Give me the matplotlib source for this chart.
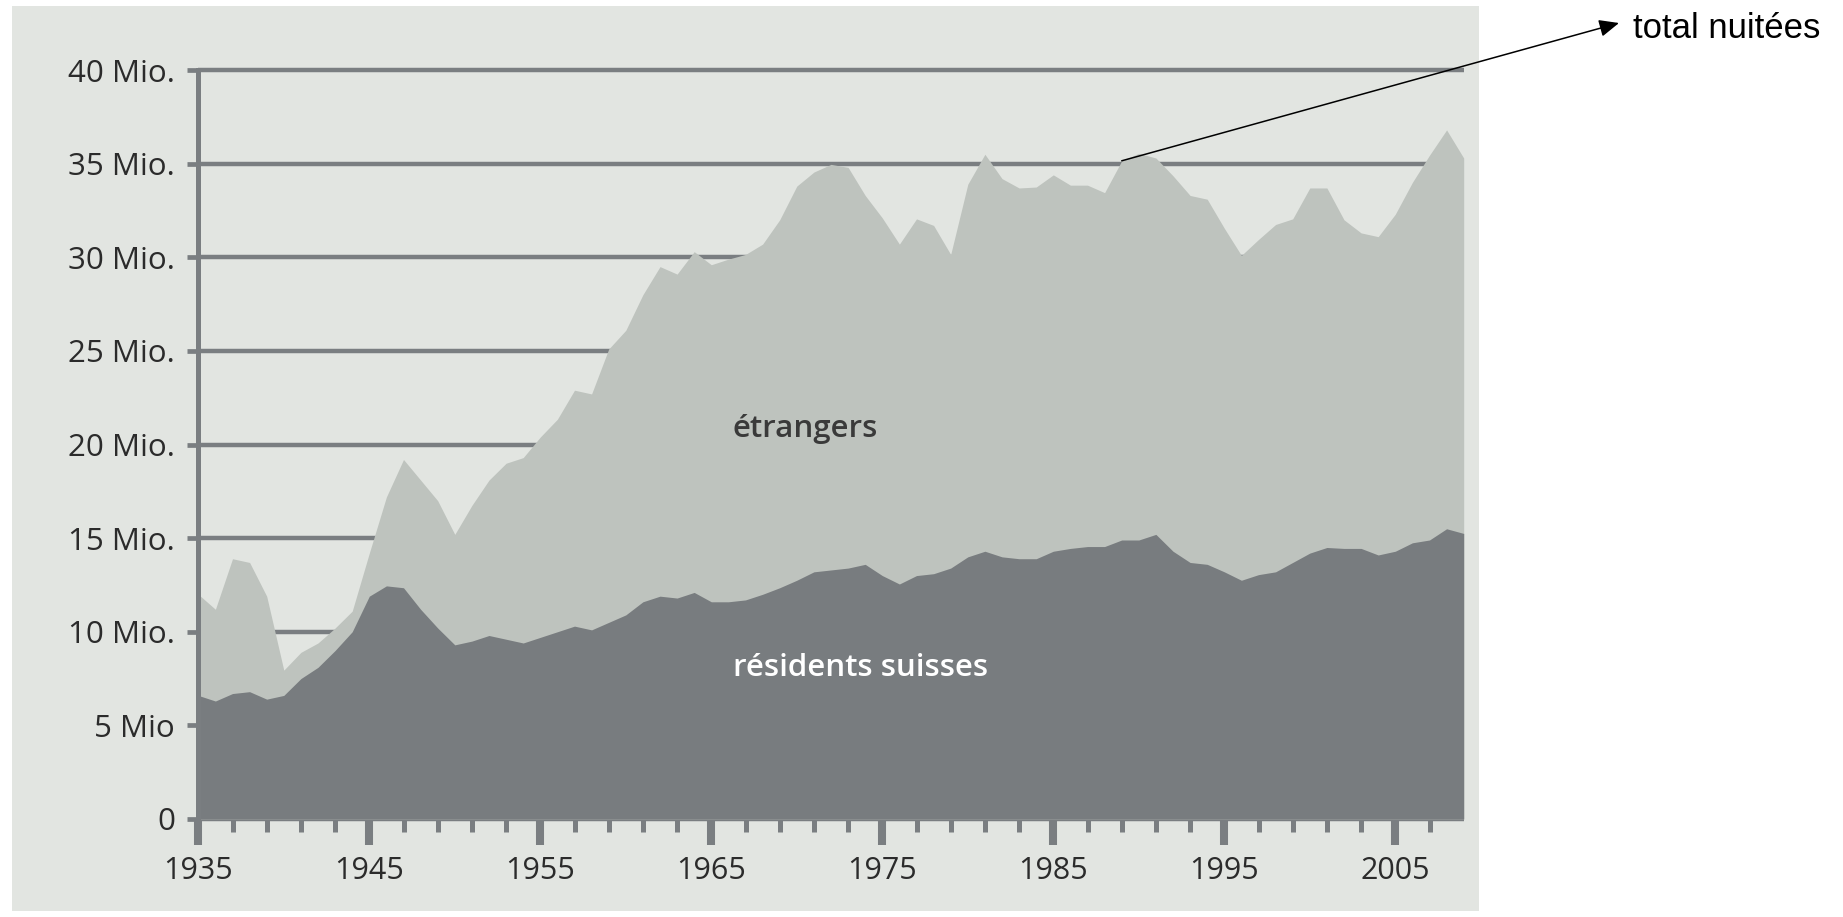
import numpy as np
import matplotlib.pyplot as plt
from matplotlib.patches import Rectangle

plt.rcParams['font.family'] = ['Open Sans', 'DejaVu Sans']

# nuitées hôtelières en Suisse, en millions
years = np.arange(1935, 2010)
total = [12.0, 11.2, 13.9, 13.7, 11.9, 7.95, 8.9, 9.4, 10.2, 11.1,
         14.2, 17.2, 19.2, 18.1, 17.0, 15.2, 16.75, 18.1, 19.0, 19.3,
         20.4, 21.35, 22.9, 22.7, 25.1, 26.1, 28.0, 29.5, 29.1, 30.3,
         29.6, 29.9, 30.15, 30.7, 32.0, 33.8, 34.55, 34.96, 34.8, 33.3,
         32.1, 30.7, 32.05, 31.7, 30.15, 33.9, 35.5, 34.2, 33.7, 33.75,
         34.4, 33.85, 33.85, 33.45, 35.15, 35.55, 35.3, 34.35, 33.3, 33.1,
         31.55, 30.1, 30.95, 31.75, 32.05, 33.7, 33.7, 32.0, 31.3, 31.1,
         32.3, 34.0, 35.45, 36.8, 35.3]
residents = [6.6, 6.3, 6.7, 6.8, 6.4, 6.6, 7.5, 8.1, 9.0, 10.0,
             11.9, 12.45, 12.35, 11.2, 10.2, 9.3, 9.5, 9.8, 9.6, 9.4,
             9.7, 10.0, 10.3, 10.1, 10.5, 10.9, 11.6, 11.9, 11.8, 12.1,
             11.6, 11.6, 11.7, 12.0, 12.35, 12.75, 13.2, 13.3, 13.4, 13.6,
             13.0, 12.55, 13.0, 13.1, 13.4, 14.0, 14.3, 14.0, 13.9, 13.9,
             14.3, 14.45, 14.55, 14.55, 14.9, 14.9, 15.2, 14.3, 13.7, 13.6,
             13.2, 12.75, 13.05, 13.2, 13.7, 14.2, 14.5, 14.45, 14.45, 14.1,
             14.3, 14.75, 14.9, 15.5, 15.25]

ytick_vals = [0, 5, 10, 15, 20, 25, 30, 35, 40]
ytick_labels = ['0', '5 Mio', '10 Mio.', '15 Mio.', '20 Mio.', '25 Mio.',
                '30 Mio.', '35 Mio.', '40 Mio.']
xtick_major = list(range(1935, 2006, 10))
xtick_minor = [y for y in range(1937, 2009, 2) if y not in xtick_major]

panel_c = '#e2e5e1'
light_c = '#bec3be'
dark_c = '#787c7f'
grid_c = '#7a7e81'
text_c = '#2b2b2b'

W, H = 1843, 917
fig = plt.figure(figsize=(W / 100, H / 100), dpi=100)
panel = Rectangle((12 / W, 1 - 911 / H), (1479 - 12) / W, 905 / H,
                  transform=fig.transFigure, facecolor=panel_c,
                  edgecolor='none', zorder=-10)
fig.add_artist(panel)

ax = fig.add_axes([198.3 / W, 98 / H, (1463.7 - 198.3) / W, 749 / H])
ax.set_facecolor('none')

ax.hlines(ytick_vals, 1935, 2009, colors=grid_c, linewidth=3.2, zorder=1, clip_on=False)
ax.fill_between(years, 0, total, color=light_c, lw=0, zorder=2)
ax.fill_between(years, 0, residents, color=dark_c, lw=0, zorder=3)

ax.set_xlim(1935, 2009)
ax.set_ylim(0, 40)
for s in ['top', 'right', 'bottom']:
    ax.spines[s].set_visible(False)
ax.spines['left'].set_color(grid_c)
ax.spines['left'].set_linewidth(3.6)
ax.spines['left'].set_zorder(4)

ax.set_yticks(ytick_vals, ytick_labels)
ax.tick_params(axis='y', length=8, width=3.4, color=grid_c, pad=8.6,
               labelsize=22.5, labelcolor=text_c)
ax.set_xticks(xtick_major)
ax.set_xticks(xtick_minor, minor=True)
ax.tick_params(axis='x', which='major', length=18.7, width=5.8, color=grid_c,
               pad=8, labelsize=22, labelcolor=text_c)
ax.tick_params(axis='x', which='minor', length=9.4, width=3.6, color=grid_c)

ax.text(1970.5, 20.85, 'étrangers', ha='center', va='center', fontsize=22.5,
        fontweight='semibold', color='#3a3a3a', zorder=5)
ax.text(1973.7, 8.05, 'résidents suisses', ha='center', va='center', fontsize=22.5,
        fontweight='semibold', color='white', zorder=5)

# flèche vers l'étiquette "total nuitées"
i89 = list(years).index(1989)
ax.annotate('', xy=(1619 / W, 1 - 23 / H), xycoords='figure fraction',
            xytext=(1989, total[i89]), textcoords='data',
            arrowprops=dict(arrowstyle='-|>,head_length=0.8,head_width=0.35',
                            mutation_scale=15, color='black', lw=1.1,
                            shrinkA=0, shrinkB=0), annotation_clip=False)
fig.text(1633 / W, 1 - 38 / H, 'total nuitées', family=['Liberation Sans', 'DejaVu Sans'],
         fontsize=25, va='baseline', ha='left', color='black')

fig.savefig('out.png', dpi=100)
